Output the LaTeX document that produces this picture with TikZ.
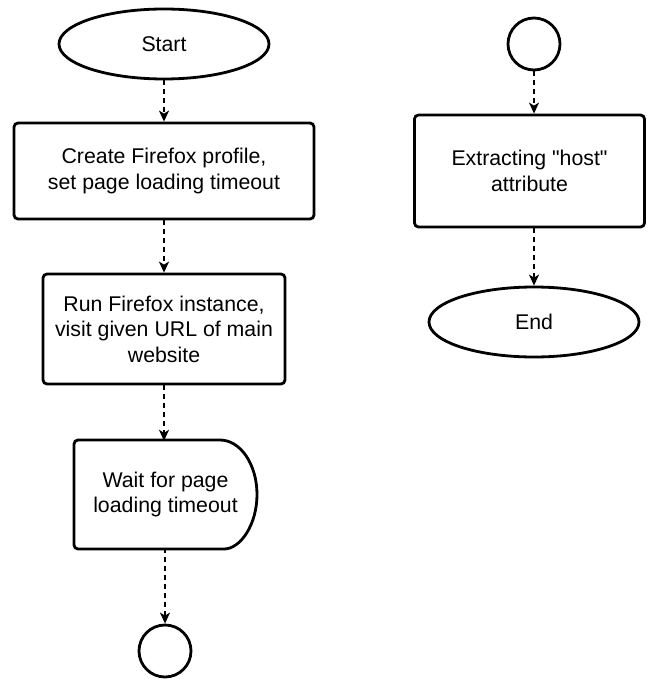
\documentclass[tikz,border=0pt]{standalone}
\usepackage{fontspec}
\setmainfont{Liberation Sans}[Ligatures=TeXOff]
\usetikzlibrary{arrows.meta}
\usetikzlibrary{shapes.geometric}

\tikzset{
    txt/.style={font=\fontsize{21.3}{25.5}\selectfont, align=center},
    term/.style={txt, draw, ellipse, line width=2.8pt, minimum width=210pt, minimum height=70pt, inner sep=0pt},
    stepbox/.style={txt, draw, rectangle, rounded corners=4pt, line width=2.8pt, inner sep=0pt},
    conn/.style={draw, circle, line width=2.8pt, minimum size=52pt, inner sep=0pt},
    flow/.style={-{Stealth[length=11pt,width=10pt,inset=3pt]}, line width=1.6pt, dash pattern=on 5pt off 4pt}
}

\begin{document}
\begin{tikzpicture}[x=1pt,y=-1pt]
        \useasboundingbox (0,0) rectangle (646,679);
        % left column
        \node[term] (start) at (164,44) {Start};
        \node[stepbox, minimum width=300pt, minimum height=96pt] (profile) at (164,171) {Create Firefox profile,\\set page loading timeout};
        \node[stepbox, minimum width=242pt, minimum height=110pt] (visit) at (164,329) {Run Firefox instance,\\visit given URL of main\\website};
        \node[txt, minimum width=181pt, minimum height=107pt, inner sep=0pt] (wait) at (165.5,494.5) {Wait for page\\loading timeout};
        \draw[line width=2.8pt, rounded corners=4pt] (220,440) -- (74,440) -- (74,549) -- (220,549) [sharp corners] arc (90:-90:37 and 54.5);
        \node[conn] (jumpA) at (165,651) {};
        % right column
        \node[conn] (jumpB) at (534,44) {};
        \node[stepbox, minimum width=230pt, minimum height=112pt] (host) at (529.5,171) {Extracting "host"\\attribute};
        \node[term] (end) at (534,322) {End};
        % connectors
        \draw[flow] (start) -- (profile);
        \draw[flow] (profile) -- (visit);
        \draw[flow] (visit) -- (wait.north -| visit.south);
        \draw[flow] (wait.south -| jumpA.north) -- (jumpA);
        \draw[flow] (jumpB) -- (host.north -| jumpB.south);
        \draw[flow] (host.south -| end.north) -- (end);
    \end{tikzpicture}
\end{document}
